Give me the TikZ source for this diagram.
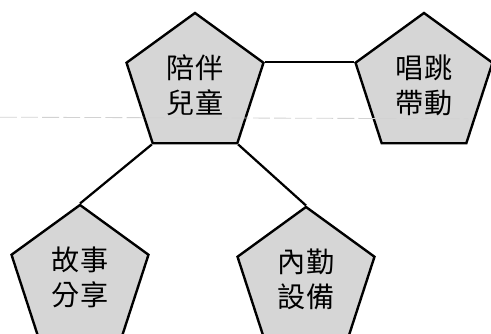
\documentclass[tikz,border=0pt]{standalone}
\usepackage{fontspec}
\newfontfamily\cjk{Noto Sans CJK TC}
\usetikzlibrary{shapes.geometric,positioning,calc}
\definecolor{pentagray}{RGB}{214,214,214}

\begin{document}
\begin{tikzpicture}[
    penta/.style={draw, regular polygon, regular polygon sides=5, minimum size=3.6cm, inner sep=0pt, fill=pentagray, line width=1.7pt, align=center, font=\cjk\fontsize{20}{25}\selectfont},
    link/.style={line width=1.6pt}]
  \useasboundingbox (0,0) rectangle (12.275,8.35);

  \node[penta] (kid) at (4.875,6.225) {陪伴\\兒童};
  \node[penta] (sing) at (10.6,6.225) {唱跳\\帶動};
  \node[penta] (story) at (2.0,1.425) {故事\\分享};
  \node[penta] (duty) at (7.65,1.375) {內勤\\設備};

  \draw[link] (kid.corner 5) -- (sing.corner 2);
  \draw[link] (kid.corner 3) -- (story.corner 1);
  \draw[link] (kid.corner 4) -- (duty.corner 1);

  % faint scan line
  \coordinate (scanL) at (0,5.42);
  \coordinate (scanR) at (11.7,5.38);
  \draw[gray!35, line width=0.6pt, dash pattern=on 12pt off 3pt] (scanL) -- (scanR);
\end{tikzpicture}
\end{document}
